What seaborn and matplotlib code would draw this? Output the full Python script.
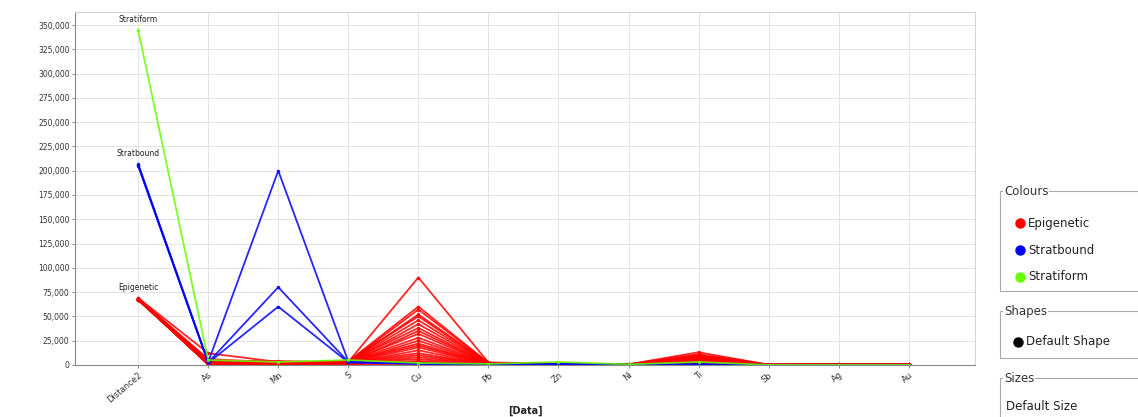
import numpy as np
import pandas as pd
import matplotlib
matplotlib.use("Agg")
import matplotlib.pyplot as plt
from matplotlib.patches import Rectangle
from matplotlib.lines import Line2D
import seaborn as sns

# Variables shown on the parallel axes
variables = ["Distance2", "As", "Mn", "S", "Cu", "Pb", "Zn", "Ni", "Ti", "Sb", "Ag", "Au"]

# One row per sample, values in variable order
epigenetic = [
    [69000, 12000, 3000, 3000, 90000, 2500, 1500, 600, 13000, 200, 600, 500],
    [68000, 6000, 2500, 3500, 60000, 2000, 1200, 500, 11000, 200, 500, 400],
    [68500, 5000, 2000, 3000, 57000, 2200, 1000, 400, 10000, 150, 400, 400],
    [68000, 4000, 4000, 2500, 52000, 1800, 900, 500, 9500, 100, 300, 300],
    [67500, 3500, 2000, 4000, 50000, 1500, 1100, 400, 9000, 100, 300, 300],
    [68000, 3000, 1500, 3000, 46000, 1600, 800, 300, 8000, 100, 200, 200],
    [67000, 2500, 1800, 2500, 42000, 1400, 900, 300, 7500, 100, 200, 200],
    [68000, 3000, 1200, 3500, 38000, 1200, 700, 300, 7000, 50, 200, 200],
    [67500, 2000, 1000, 2000, 35000, 1300, 600, 200, 6500, 50, 100, 100],
    [68000, 2500, 1500, 3000, 32000, 1100, 800, 200, 6000, 50, 100, 100],
    [67000, 2000, 1000, 2500, 28000, 1000, 500, 200, 5500, 50, 100, 100],
    [68000, 1500, 1200, 2000, 25000, 900, 600, 200, 5000, 50, 100, 100],
    [67500, 2000, 800, 3000, 22000, 800, 500, 150, 4500, 0, 100, 100],
    [68000, 1500, 900, 2500, 20000, 900, 400, 150, 4000, 0, 50, 50],
    [67000, 1000, 700, 2000, 18000, 700, 400, 100, 3500, 0, 50, 50],
    [68000, 1500, 600, 1500, 15000, 600, 300, 100, 3000, 0, 50, 50],
    [67500, 1000, 800, 2500, 12000, 500, 300, 100, 2500, 0, 0, 0],
    [68000, 800, 500, 2000, 10000, 600, 200, 100, 2000, 0, 0, 0],
    [67000, 1000, 600, 1500, 8000, 400, 200, 50, 1500, 0, 0, 0],
    [68000, 700, 400, 2000, 6000, 300, 200, 50, 1200, 0, 0, 0],
    [67500, 500, 500, 1000, 4000, 300, 100, 50, 1000, 0, 0, 0],
    [68000, 600, 300, 1500, 3000, 200, 100, 0, 800, 0, 0, 0],
    [67000, 400, 300, 1000, 2000, 200, 100, 0, 500, 0, 0, 0],
    [68000, 300, 200, 800, 1000, 100, 50, 0, 300, 0, 0, 0],
]
stratbound = [
    [207000, 3000, 200000, 3500, 1500, 600, 800, 200, 600, 0, 0, 0],
    [206000, 2500, 80000, 3000, 1200, 500, 700, 200, 500, 0, 0, 0],
    [205000, 2000, 60000, 2500, 1000, 400, 600, 100, 400, 0, 0, 0],
]
stratiform = [
    [345000, 5000, 3000, 5000, 2000, 1000, 3000, 500, 3000, 0, 0, 0],
]

groups = ["Epigenetic", "Stratbound", "Stratiform"]
palette = {"Epigenetic": "#ff0000", "Stratbound": "#0000ff", "Stratiform": "#66ff00"}

records = []
sample_id = 0
for name, rows in zip(groups, [epigenetic, stratbound, stratiform]):
    for row in rows:
        for pos, (var, val) in enumerate(zip(variables, row)):
            records.append({"sample": sample_id, "group": name, "pos": pos, "value": val})
        sample_id += 1
df = pd.DataFrame(records)

sns.set_style("white")
fig = plt.figure(figsize=(11.38, 4.17), dpi=100)
ax = fig.add_axes([0.066, 0.125, 0.791, 0.846])

sns.lineplot(data=df, x="pos", y="value", hue="group", units="sample",
             estimator=None, palette=palette, hue_order=groups,
             linewidth=1.3, alpha=0.85, marker="o", markersize=2.5,
             markeredgewidth=0, legend=False, ax=ax, sort=False)

ax.set_xlim(-0.9, 11.95)
ax.set_ylim(0, 363400)
ax.set_yticks(np.arange(0, 350001, 25000))
ax.set_yticklabels([f"{v:,}" for v in range(0, 350001, 25000)], fontsize=5.5, color="#333333")
ax.set_xticks(range(len(variables)))
ax.set_xticklabels(variables, rotation=40, ha="right", rotation_mode="anchor",
                   fontsize=6, color="#333333")
ax.set_xlabel("[Data]", fontsize=7, fontweight="bold", labelpad=10)
ax.xaxis.set_label_coords(0.5, -0.115)
ax.set_ylabel("")
ax.grid(True, color="#e4e4e4", linewidth=0.7)
ax.set_axisbelow(True)
ax.tick_params(axis="both", length=2, width=0.6, color="#777777", pad=2, direction="out")
ax.tick_params(axis="x", bottom=True)
ax.tick_params(axis="y", left=True)
for side in ["left", "bottom"]:
    ax.spines[side].set_color("#888888")
    ax.spines[side].set_linewidth(0.8)
for side in ["top", "right"]:
    ax.spines[side].set_color("#cccccc")
    ax.spines[side].set_linewidth(0.6)

# Group labels at the first axis
start_vals = {"Stratiform": stratiform[0][0], "Stratbound": stratbound[0][0], "Epigenetic": epigenetic[0][0]}
for name, v in start_vals.items():
    ax.annotate(name, (0, v), xytext=(0, 4), textcoords="offset points",
                ha="center", va="bottom", fontsize=5.5, color="#222222")

# Side panel: colour, shape and size keys
W, H = 1138, 417

def fx(px):
    return px / W

def fy(py):
    return 1 - py / H

def group_box(top, bottom, title):
    fig.add_artist(Rectangle((fx(1000), fy(bottom)), fx(150), fy(top) - fy(bottom),
                             transform=fig.transFigure, fill=False,
                             edgecolor="#aaaaaa", linewidth=0.8, clip_on=False))
    fig.text(fx(1004), fy(top), title, fontsize=8.5, color="#333333", va="center", ha="left",
             bbox=dict(facecolor="white", edgecolor="none", pad=0.5))

group_box(191, 291, "Colours")
for i, name in enumerate(groups):
    y = 223 + i * 27
    fig.add_artist(Line2D([fx(1020)], [fy(y)], marker="o", markersize=6.5,
                          color=palette[name], transform=fig.transFigure))
    fig.text(fx(1028), fy(y), name, fontsize=8.5, color="#222222", va="center")

group_box(311, 358, "Shapes")
fig.add_artist(Line2D([fx(1018)], [fy(342)], marker="o", markersize=6.5,
                      color="black", transform=fig.transFigure))
fig.text(fx(1026), fy(342), "Default Shape", fontsize=8.5, color="#222222", va="center")

group_box(378, 430, "Sizes")
fig.text(fx(1006), fy(407), "Default Size", fontsize=8.5, color="#222222", va="center")

fig.savefig("out.png", dpi=100, facecolor="white")
